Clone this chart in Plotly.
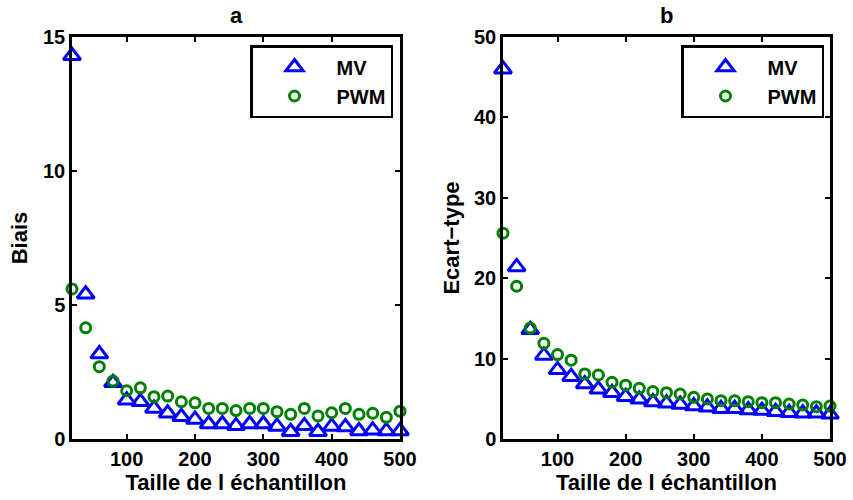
import plotly.graph_objects as go

n_ech = [20, 40, 60, 80, 100, 120, 140, 160, 180, 200, 220, 240, 260,
         280, 300, 320, 340, 360, 380, 400, 420, 440, 460, 480, 500]

biais_mv = [14.3, 5.4, 3.17, 2.1, 1.45, 1.39, 1.14, 0.96, 0.83, 0.73, 0.56, 0.56, 0.49,
            0.56, 0.56, 0.47, 0.27, 0.49, 0.27, 0.47, 0.45, 0.30, 0.33, 0.30, 0.30]
biais_pwm = [5.6, 4.15, 2.7, 2.16, 1.8, 1.91, 1.58, 1.6, 1.39, 1.35, 1.14, 1.14, 1.06,
             1.14, 1.14, 1.02, 0.92, 1.14, 0.86, 0.98, 1.14, 0.92, 0.96, 0.81, 1.04]

ecart_mv = [46.0, 21.4, 13.6, 10.4, 8.6, 7.75, 6.84, 6.18, 5.76, 5.26, 4.93, 4.6, 4.44,
            4.3, 4.1, 3.94, 3.77, 3.77, 3.6, 3.53, 3.4, 3.27, 3.2, 3.2, 3.07]
ecart_pwm = [25.6, 19.0, 13.8, 11.9, 10.5, 9.8, 8.1, 7.96, 7.05, 6.7, 6.3, 5.9, 5.76,
             5.6, 5.18, 4.98, 4.77, 4.77, 4.64, 4.52, 4.52, 4.35, 4.23, 4.02, 4.1]

x_ticks = [100, 200, 300, 400, 500]
y1_ticks = [0, 5, 10, 15]
y2_ticks = [0, 10, 20, 30, 40, 50]

BLUE = "rgb(0,0,255)"
GREEN = "rgb(0,128,0)"
FONT = "Liberation Sans, Arial, sans-serif"
FS = 20   # tick labels / legend
FT = 22   # axis titles and panel titles

fig = go.Figure()

def add_pair(mv, pwm, xa, ya, leg):
    fig.add_trace(go.Scatter(
        x=n_ech, y=mv, mode="markers", name="MV", xaxis=xa, yaxis=ya, legend=leg,
        cliponaxis=False,
        marker=dict(symbol="triangle-up-open", size=15, color=BLUE,
                    line=dict(color=BLUE, width=3))))
    fig.add_trace(go.Scatter(
        x=n_ech, y=pwm, mode="markers", name="PWM", xaxis=xa, yaxis=ya, legend=leg,
        cliponaxis=False,
        marker=dict(symbol="circle-open", size=10, color=GREEN,
                    line=dict(color=GREEN, width=3))))

add_pair(biais_mv, biais_pwm, "x", "y", "legend")
add_pair(ecart_mv, ecart_pwm, "x2", "y2", "legend2")

axis_common = dict(
    showline=True, linecolor="black", linewidth=2.5, mirror="ticks",
    ticks="inside", ticklen=5, tickwidth=2, tickcolor="black",
    showgrid=False, zeroline=False, automargin=False,
    tickfont=dict(family=FONT, size=FS, color="black", weight="bold"),
    title_font=dict(family=FONT, size=FT, color="black", weight="bold"),
)

leg_common = dict(
    yanchor="top", xanchor="right",
    bordercolor="black", borderwidth=2.5, bgcolor="white",
    font=dict(family=FONT, size=FS, color="black", weight="bold"),
    itemwidth=74, tracegroupgap=0,
)

fig.update_layout(
    template="none",
    width=853, height=500,
    margin=dict(l=0, r=0, t=0, b=0),
    paper_bgcolor="white", plot_bgcolor="white",
    font=dict(family=FONT, color="black"),
    showlegend=True,
    xaxis=dict(domain=[72/853, 400/853], range=[20, 500], tickvals=x_ticks,
               anchor="y", title=dict(text="Taille de l échantillon", standoff=1),
               **axis_common),
    yaxis=dict(domain=[61/500, 463/500], range=[0, 15], tickvals=y1_ticks,
               anchor="x", title=dict(text="Biais", standoff=10), **axis_common),
    xaxis2=dict(domain=[503/853, 830/853], range=[20, 500], tickvals=x_ticks,
                anchor="y2", title=dict(text="Taille de l échantillon", standoff=1),
                **axis_common),
    yaxis2=dict(domain=[61/500, 463/500], range=[0, 50], tickvals=y2_ticks,
                anchor="x2", title=dict(text="Ecart−type", standoff=9), **axis_common),
    legend=dict(x=393/853, y=455/500, **leg_common),
    legend2=dict(x=824/853, y=455/500, **leg_common),
    annotations=[
        dict(text="a", x=0.5, xref="x domain", y=485/500, yref="paper", yanchor="middle",
             showarrow=False, font=dict(family=FONT, size=FT, color="black", weight="bold")),
        dict(text="b", x=0.5, xref="x2 domain", y=485/500, yref="paper", yanchor="middle",
             showarrow=False, font=dict(family=FONT, size=FT, color="black", weight="bold")),
    ],
)

fig.write_html("out.html",
               config={"displayModeBar": False},
               post_script="document.body.style.margin='0px';document.body.style.overflow='hidden';")
